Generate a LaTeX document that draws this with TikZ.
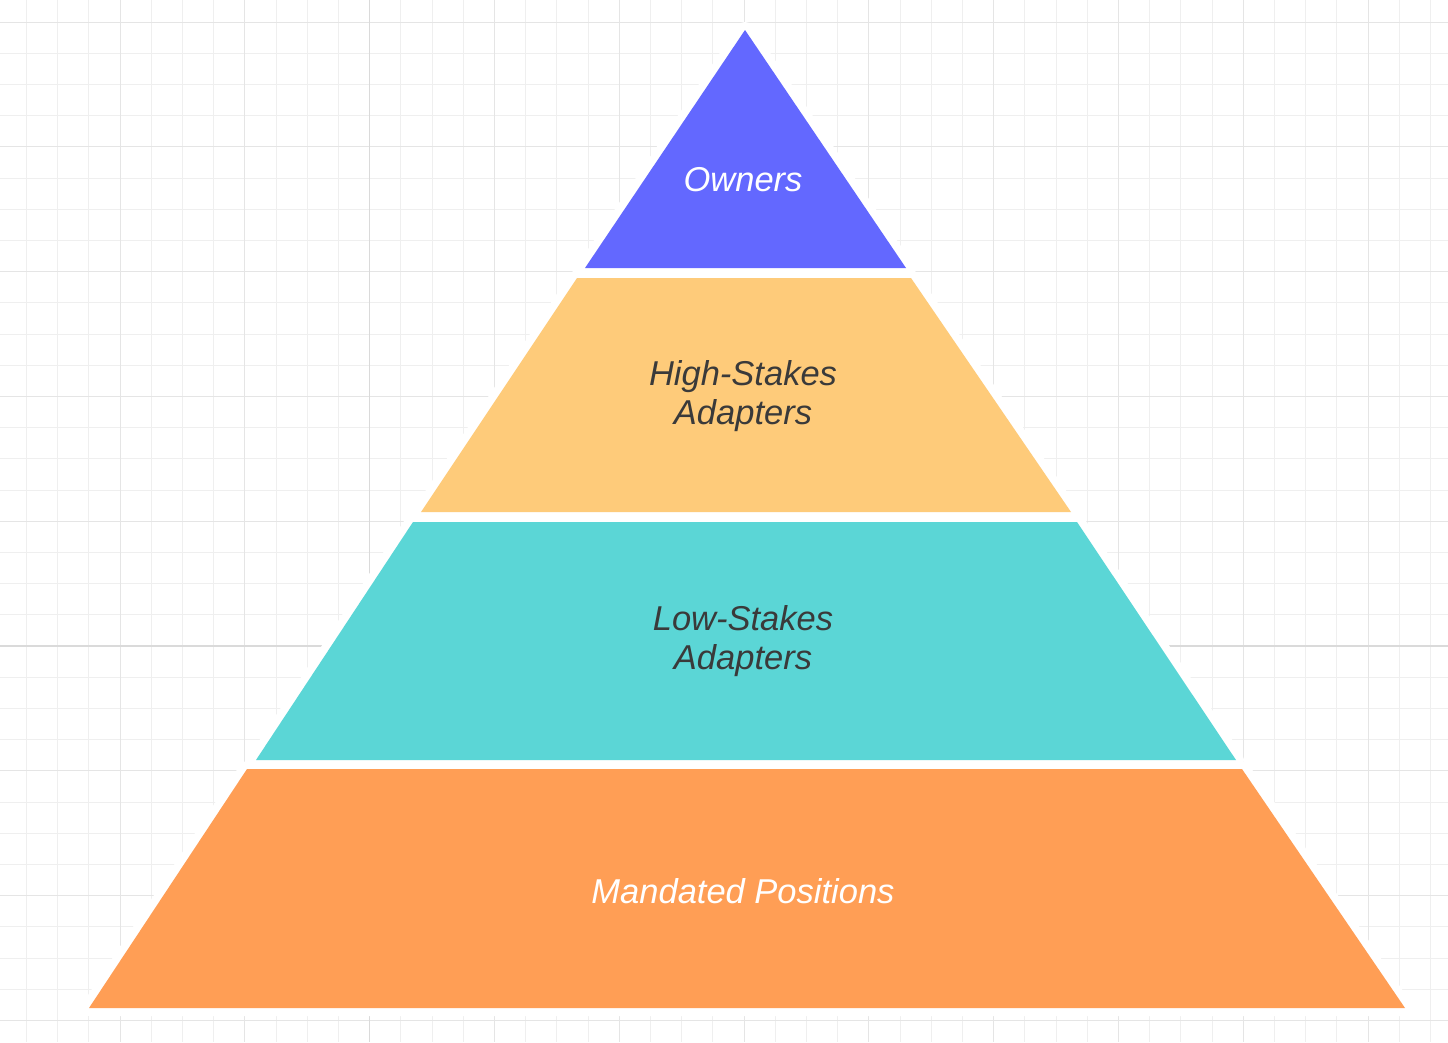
\documentclass[tikz,border=0pt]{standalone}
\usepackage{fontspec}
\setsansfont{Liberation Sans}
\usetikzlibrary{positioning}
\definecolor{tierblue}{RGB}{99,104,255}
\definecolor{tieryellow}{RGB}{254,203,122}
\definecolor{tierteal}{RGB}{91,214,214}
\definecolor{tierorange}{RGB}{255,158,85}
\definecolor{labeldark}{RGB}{58,58,58}
\definecolor{gridminor}{RGB}{239,239,239}
\definecolor{gridmajor}{RGB}{229,229,229}
\definecolor{gridstrong}{RGB}{218,218,218}
\tikzset{
  minorline/.style={draw=gridminor,line width=1pt},
  majorline/.style={draw=gridmajor,line width=1pt},
  strongline/.style={draw=gridstrong,line width=1.4pt},
  halo/.style={draw=white,fill=white,line width=16pt,line join=round},
  tierlabel/.style={font=\sffamily\itshape\fontsize{34.5}{39}\selectfont,align=center,inner sep=0pt},
}
\begin{document}
\begin{tikzpicture}[x=1pt,y=-1pt]
\useasboundingbox[fill=white] (0,0) rectangle (1448,1042);
% grid
\foreach \i in {0,...,46} \draw[minorline] ({-4.8+31.2*\i},0) -- ({-4.8+31.2*\i},1042);
\foreach \j in {0,...,33} \draw[minorline] (0,{-9.2+31.2*\j}) -- (1448,{-9.2+31.2*\j});
\foreach \i in {0,...,10} \draw[majorline] ({120+124.8*\i},0) -- ({120+124.8*\i},1042);
\foreach \j in {0,...,8} \draw[majorline] (0,{22+124.8*\j}) -- (1448,{22+124.8*\j});
\draw[strongline] (369.6,0) -- (369.6,1042);
\draw[strongline] (0,646) -- (1448,646);

% tier corners
\coordinate (apex) at (745,30);
\coordinate (t1l) at (585,268);
\coordinate (t1r) at (906,268);
\coordinate (t2a) at (577,278);
\coordinate (t2b) at (911,278);
\coordinate (t2c) at (1071,512);
\coordinate (t2d) at (421,512);
\coordinate (t3a) at (413,522);
\coordinate (t3b) at (1077,522);
\coordinate (t3c) at (1236,760);
\coordinate (t3d) at (256,760);
\coordinate (t4a) at (247,769);
\coordinate (t4b) at (1242,769);
\coordinate (t4c) at (1405,1008);
\coordinate (t4d) at (89,1008);

% white border
\path[halo] (apex) -- (t1r) -- (t1l) -- cycle;
\path[halo] (t2a) -- (t2b) -- (t2c) -- (t2d) -- cycle;
\path[halo] (t3a) -- (t3b) -- (t3c) -- (t3d) -- cycle;
\path[halo] (t4a) -- (t4b) -- (t4c) -- (t4d) -- cycle;

% tiers
\fill[tierblue] (apex) -- (t1r) -- (t1l) -- cycle;
\fill[tieryellow] (t2a) -- (t2b) -- (t2c) -- (t2d) -- cycle;
\fill[tierteal] (t3a) -- (t3b) -- (t3c) -- (t3d) -- cycle;
\fill[tierorange] (t4a) -- (t4b) -- (t4c) -- (t4d) -- cycle;

\node[tierlabel,text=white] (owners) at (743,180) {Owners};
\node[tierlabel,text=labeldark] (highstakes) at (743,396) {High-Stakes\\Adapters};
\node[tierlabel,text=labeldark] (lowstakes) at (743,641) {Low-Stakes\\Adapters};
\node[tierlabel,text=white] (mandated) at (743,891) {Mandated Positions};

\end{tikzpicture}
\end{document}
